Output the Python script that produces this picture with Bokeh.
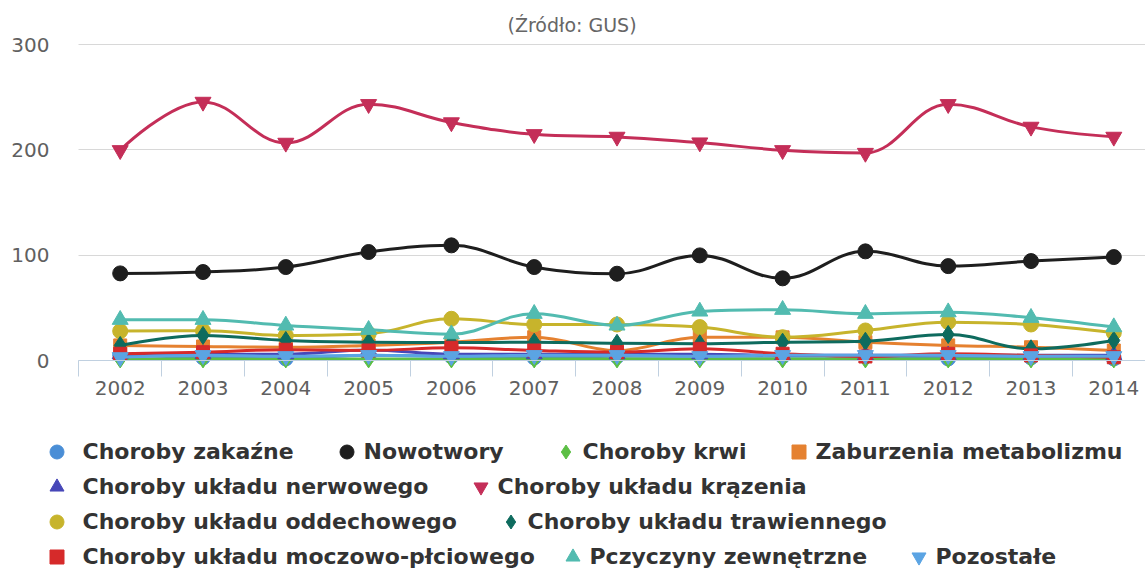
from bokeh.plotting import figure
from bokeh.models import FixedTicker, Legend, LegendItem, ColumnDataSource, Range1d, BoxAnnotation
from bokeh.embed import file_html
from bokeh.resources import INLINE

# ---------------- data ----------------
years = [2002, 2003, 2004, 2005, 2006, 2007, 2008, 2009, 2010, 2011, 2012, 2013, 2014]

choroby_zakazne      = [5, 3, 2, 5, 4, 3, 4, 4, 4, 4, 2, 3, 2]
nowotwory            = [82.7, 84, 88.7, 103, 109.3, 88.7, 82.4, 99.8, 78, 103.6, 89.6, 94.4, 98.2]
choroby_krwi         = [1.5, 1.5, 1.5, 1.5, 1.5, 1.5, 1.5, 1.5, 1.5, 1.5, 1.5, 1.5, 1.5]
zaburzenia_metab     = [14.3, 13.3, 12.6, 14.3, 17.4, 22.1, 9.5, 22.1, 22, 17.4, 14.3, 12.6, 9.5]
uklad_nerwowy        = [6, 6, 6, 10, 6, 6, 6, 6, 5, 5, 5, 5, 5]
uklad_krazenia       = [199.6, 245.5, 206.6, 243.3, 226, 214.8, 212.3, 206.9, 199.6, 197, 243.3, 221.8, 212.3]
uklad_oddechowy      = [27.9, 28.2, 23.8, 25.4, 39.6, 34.2, 34.2, 31.7, 22.1, 28.5, 36.4, 34.2, 26.3]
uklad_trawienny      = [14.3, 23.8, 19, 17.4, 17, 17.4, 16.4, 15.9, 17.4, 18.3, 24.7, 11.1, 19]
uklad_moczowo        = [6.4, 7.9, 10.2, 9.5, 12.1, 9.5, 7.9, 11.1, 6.4, 3.8, 6.4, 4.8, 3.1]
przyczyny_zewnetrzne = [38.7, 38.7, 33.3, 29.2, 25, 44.4, 33.3, 46.6, 48.2, 44.4, 45.9, 40.6, 31.7]
pozostale            = [3, 5, 4, 5, 4, 5, 5, 4, 5, 5, 5, 4, 4]

series_names = ["Choroby zakaźne", "Nowotwory", "Choroby krwi", "Zaburzenia metabolizmu",
                "Choroby układu nerwowego", "Choroby układu krązenia",
                "Choroby układu oddechowego", "Choroby układu trawiennego",
                "Choroby układu moczowo-płciowego", "Pczyczyny zewnętrzne", "Pozostałe"]
series_values = [choroby_zakazne, nowotwory, choroby_krwi, zaburzenia_metab, uklad_nerwowy,
                 uklad_krazenia, uklad_oddechowy, uklad_trawienny, uklad_moczowo,
                 przyczyny_zewnetrzne, pozostale]
y_ticks = [0, 100, 200, 300]
title_text = "(Źródło: GUS)"

# ---------------- styles ----------------
colors = ["#4A8ED6", "#1E1E1E", "#5CBF45", "#E58130", "#4747B8", "#C42E58",
          "#C7B42C", "#0E6B5E", "#D62A2A", "#52BBB0", "#5BA4E3"]
markers = ["circle", "circle", "diamond", "square", "triangle", "inverted_triangle",
           "circle", "diamond", "square", "triangle", "inverted_triangle"]
sizes = [15, 15, 18, 13, 16, 16, 15, 18, 13, 16, 16]

# legend item placement: (row, marker centre x on screen, label standoff)
legend_pos = [(0, 56, 9), (0, 346, 0), (0, 565, 0), (0, 798, 0),
              (1, 56, 9), (1, 480, 0),
              (2, 56, 9), (2, 510, 0),
              (3, 56, 9), (3, 572, 0), (3, 918, 0)]
row_centres = [451.7, 486.7, 521.7, 556.7]

W, H = 1145, 569
AXIS_X = 78                   # screen x where the category axis starts
Y300, ZERO_Y = 44, 360        # screen y of value 300 and of value 0
FRAME_T = 36                  # top of plot area (a little above the 300 line)
PX_PER_UNIT = (ZERO_Y - Y300) / 300.0
px_per_year = 82.8
x_start = 2002 - 119.7 / px_per_year
x_axis_start = 2002 - (119.7 - AXIS_X) / px_per_year
x_end = x_start + W / px_per_year
y_start = -(H - ZERO_Y) / PX_PER_UNIT
y_end = 300 + (Y300 - FRAME_T) / PX_PER_UNIT


def spline(xs, ys, smoothing=1.5):
    n = len(xs)
    denom = smoothing + 1
    left = [(xs[i], ys[i]) for i in range(n)]
    right = [(xs[i], ys[i]) for i in range(n)]
    for i in range(1, n - 1):
        px, py = xs[i], ys[i]
        lx, ly = xs[i - 1], ys[i - 1]
        nx, ny = xs[i + 1], ys[i + 1]
        lcx = (smoothing * px + lx) / denom
        lcy = (smoothing * py + ly) / denom
        rcx = (smoothing * px + nx) / denom
        rcy = (smoothing * py + ny) / denom
        corr = 0
        if rcx != lcx:
            corr = ((rcy - lcy) * (rcx - px)) / (rcx - lcx) + py - rcy
        lcy += corr
        rcy += corr
        if lcy > ly and lcy > py:
            lcy = max(ly, py)
            rcy = 2 * py - lcy
        elif lcy < ly and lcy < py:
            lcy = min(ly, py)
            rcy = 2 * py - lcy
        if rcy > ny and rcy > py:
            rcy = max(ny, py)
            lcy = 2 * py - rcy
        elif rcy < ny and rcy < py:
            rcy = min(ny, py)
            lcy = 2 * py - rcy
        left[i] = (lcx, lcy)
        right[i] = (rcx, rcy)
    d = dict(x0=[], y0=[], x1=[], y1=[], cx0=[], cy0=[], cx1=[], cy1=[])
    for i in range(1, n):
        d["x0"].append(xs[i - 1]); d["y0"].append(ys[i - 1])
        d["x1"].append(xs[i]); d["y1"].append(ys[i])
        d["cx0"].append(right[i - 1][0]); d["cy0"].append(right[i - 1][1])
        d["cx1"].append(left[i][0]); d["cy1"].append(left[i][1])
    return d


p = figure(width=W, height=H, output_backend="svg", toolbar_location=None,
           x_range=Range1d(x_start, x_end), y_range=Range1d(y_start, y_end),
           min_border_left=0, min_border_right=0, min_border_top=FRAME_T,
           min_border_bottom=0, background_fill_color="white",
           border_fill_color="white")
p.outline_line_color = None

# title
p.title.text = title_text
p.title.text_font = "DejaVu Sans"
p.title.text_font_size = "19px"
p.title.text_font_style = "normal"
p.title.text_color = "#666666"
p.title.align = "left"
p.title.offset = 572 - 65
p.title.vertical_align = "middle"
p.title.standoff = 0

# grid
p.xgrid.grid_line_color = None
yg = p.ygrid[0]
yg.grid_line_color = "#D8D8D8"
yg.grid_line_width = 1
yg.ticker = FixedTicker(ticks=y_ticks)
if "cross_bounds" in yg.properties():
    yg.cross_bounds = (x_axis_start, x_end)
else:
    p.add_layout(BoxAnnotation(left=x_start, right=x_axis_start, fill_color="white",
                               fill_alpha=1, line_alpha=0, level="underlay"))

# axes
xa = p.xaxis[0]
xa.fixed_location = 0
xa.bounds = (x_axis_start, x_end)
xa.ticker = FixedTicker(ticks=years, minor_ticks=[y - 0.5 for y in years])
xa.axis_line_color = "#C0D0E0"
xa.major_tick_out = 0
xa.major_tick_in = 0
xa.minor_tick_out = 16
xa.minor_tick_in = 0
xa.minor_tick_line_color = "#C0D0E0"
xa.major_label_standoff = 4
xa.major_label_text_font = "DejaVu Sans"
xa.major_label_text_font_size = "20px"
xa.major_label_text_color = "#606060"

ya = p.yaxis[0]
ya.fixed_location = x_axis_start
ya.ticker = FixedTicker(ticks=y_ticks)
ya.axis_line_color = None
ya.major_tick_line_color = None
ya.minor_tick_line_color = None
ya.major_label_standoff = 23
ya.major_label_text_font = "DejaVu Sans"
ya.major_label_text_font_size = "20px"
ya.major_label_text_color = "#606060"

# series
scatter_renderers = []
for name, vals, col, mk, sz in zip(series_names, series_values, colors, markers, sizes):
    seg = ColumnDataSource(spline(years, vals))
    p.bezier(x0="x0", y0="y0", x1="x1", y1="y1", cx0="cx0", cy0="cy0", cx1="cx1", cy1="cy1",
             source=seg, line_color=col, line_width=3)
    src = ColumnDataSource(dict(x=years, y=vals))
    r = p.scatter(x="x", y="y", source=src, marker=mk, size=sz,
                  fill_color=col, line_color=col, line_width=1)
    scatter_renderers.append(r)

# legend: one item per legend, placed like the reference's flowing layout
for name, r, (row, cx, so) in zip(series_names, scatter_renderers, legend_pos):
    lx = cx - 17.5
    ly = H - row_centres[row] - 17.5
    leg = Legend(items=[LegendItem(label=name, renderers=[r])], location=(lx, ly),
                 orientation="horizontal", glyph_width=35, glyph_height=35,
                 label_height=35, label_standoff=so, padding=0, margin=0, spacing=0,
                 label_text_font="DejaVu Sans", label_text_font_size="22px",
                 label_text_font_style="bold", label_text_color="#333333",
                 background_fill_alpha=0, border_line_alpha=0)
    p.add_layout(leg)

open("out.html", "w").write(file_html(p, INLINE))
